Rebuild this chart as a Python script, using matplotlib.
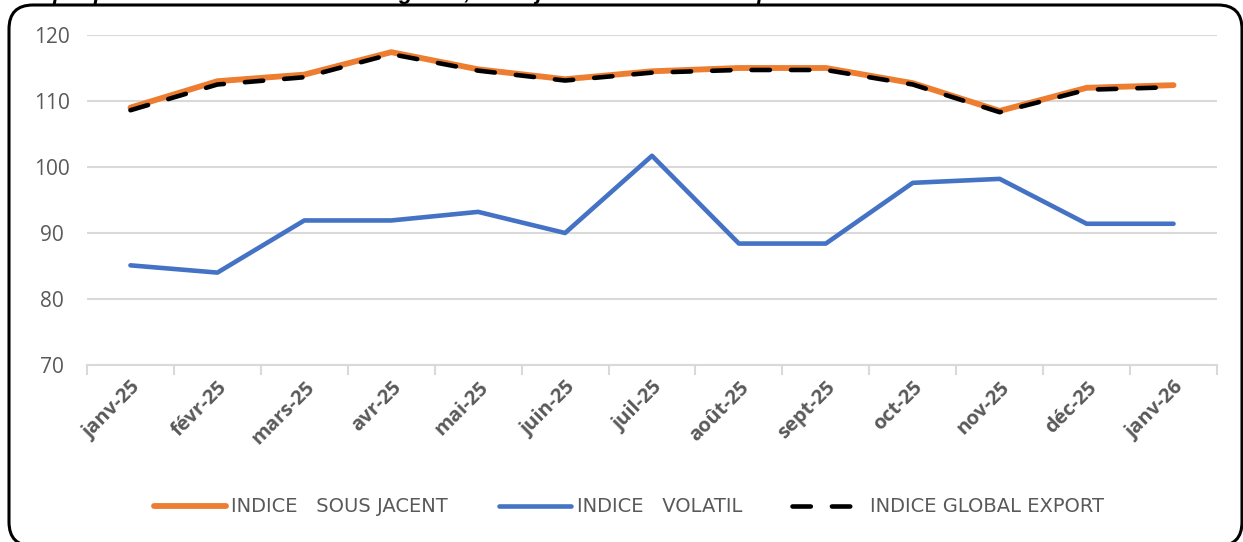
"""
Indices à l'exportation : sous-jacent, volatil et global (janv-25 à janv-26).
"""
import numpy as np
import matplotlib
matplotlib.use('Agg')
import matplotlib.pyplot as plt
from matplotlib import rcParams
from matplotlib.patches import FancyBboxPatch
from matplotlib.transforms import IdentityTransform

rcParams['font.family'] = ['Open Sans', 'DejaVu Sans']

months = ['janv-25', 'févr-25', 'mars-25', 'avr-25', 'mai-25', 'juin-25', 'juil-25',
          'août-25', 'sept-25', 'oct-25', 'nov-25', 'déc-25', 'janv-26']
sous_jacent = [109.0, 113.0, 114.0, 117.4, 114.8, 113.3, 114.5, 115.0, 115.0, 112.7, 108.5, 112.0, 112.4]
volatil = [85.1, 84.0, 91.9, 91.9, 93.2, 90.0, 101.7, 88.4, 88.4, 97.6, 98.2, 91.4, 91.4]
global_export = [108.6, 112.5, 113.6, 117.1, 114.6, 113.1, 114.3, 114.7, 114.7, 112.5, 108.3, 111.7, 112.1]

C_ORANGE = '#ed7d31'
C_BLUE = '#4472c4'
C_GRID = '#d9d9d9'
C_TXT = '#595959'

W, H = 1243, 542
fig = plt.figure(figsize=(W / 100, H / 100), dpi=100)
ax = fig.add_axes([87 / W, 1 - 365 / H, 1130 / W, 330 / H])

x = np.arange(len(months))
ax.plot(x, sous_jacent, color=C_ORANGE, lw=4.2, solid_capstyle='round', solid_joinstyle='round',
        label='INDICE   SOUS JACENT', zorder=3)
ax.plot(x, volatil, color=C_BLUE, lw=3.3, solid_capstyle='round', solid_joinstyle='round',
        label='INDICE   VOLATIL', zorder=3)
ax.plot(x, global_export, color='black', lw=3.3, dashes=(4.0, 4.6), dash_capstyle='round',
        label='INDICE GLOBAL EXPORT', zorder=4)

ax.set_xlim(-0.5, len(months) - 0.5)
ax.set_ylim(70, 120)
ax.set_yticks(range(70, 121, 10))
ax.yaxis.grid(True, color=C_GRID, lw=1.5)
ax.set_axisbelow(True)

# Excel-style category axis: tick marks between categories
ax.set_xticks(np.arange(-0.5, len(months), 1.0))
ax.set_xticklabels([])
ax.set_xticks(x, minor=True)
ax.set_xticklabels(months, minor=True, rotation=45, ha='right', rotation_mode='anchor',
                   fontsize=14.5, fontweight='bold', color=C_TXT)
ax.tick_params(axis='x', which='major', length=7, width=1.5, color=C_GRID, direction='out')
ax.tick_params(axis='x', which='minor', length=0, pad=9)
ax.tick_params(axis='y', length=0, labelsize=15, labelcolor=C_TXT, pad=25)
for lab in ax.get_yticklabels():
    lab.set_horizontalalignment('center')

for s in ['top', 'right', 'left']:
    ax.spines[s].set_visible(False)
ax.spines['bottom'].set_color(C_GRID)
ax.spines['bottom'].set_linewidth(1.5)

fig.legend(loc='center', bbox_to_anchor=(0.506, 1 - 507 / H), ncol=3, frameon=False,
           handlelength=3.7, columnspacing=2.6, handletextpad=0.3,
           prop={'family': 'DejaVu Sans', 'size': 14},
           labelcolor=C_TXT)

# rounded chart border (bottom edge runs just below the picture)
border = FancyBboxPatch((9, -4), 1242 - 9, 537 + 4,
                        boxstyle='round,pad=0,rounding_size=24',
                        transform=IdentityTransform(), fill=False, ec='black', lw=2.2)
fig.add_artist(border)

# title of the source page, mostly cut off at the top edge
fig.text(15 / W, 1 + 1 / H, "Graphique 3 : Evolution des indices global, sous-jacent et volatil à l'exportation",
         fontsize=16, fontweight='bold', fontstyle='italic', va='baseline', ha='left',
         family=['Liberation Sans', 'DejaVu Sans'])

plt.savefig('out.png', dpi=100)
plt.close()
